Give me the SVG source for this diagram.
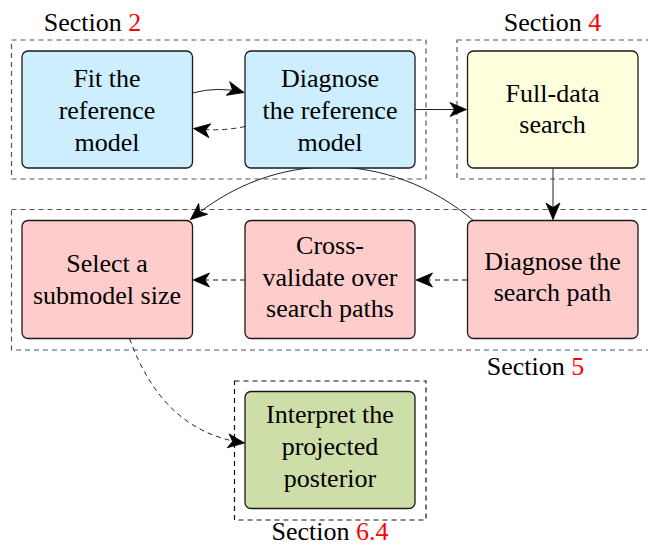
<svg xmlns="http://www.w3.org/2000/svg" width="648" height="547" viewBox="0 0 648 547">
<style>
  text { font-family: "Liberation Serif", "Times New Roman", serif; font-size: 26px; fill: #000; text-anchor: middle; }
  .num { fill: #ff0000; }
  .node { stroke: #1a1a1a; stroke-width: 1.3; }
  .blue { fill: #cceeff; }
  .yellow { fill: #ffffdd; }
  .pink { fill: #ffcccc; }
  .green { fill: #cddea9; }
  .sec { fill: none; stroke: #555; stroke-width: 1.2; stroke-dasharray: 5 4; }
  .sec4 { fill: none; stroke: #111; stroke-width: 1.2; stroke-dasharray: 5 4; }
  .conn { fill: none; stroke: #222; stroke-width: 1; marker-end: url(#arrow); }
  .dash { stroke-dasharray: 5 4; }
  .gray { stroke: #666; stroke-width: 1.3; }
</style>
<defs>
  <marker id="arrow" markerUnits="userSpaceOnUse" viewBox="-20 -9 22 18" markerWidth="22" markerHeight="18" refX="0" refY="0" orient="auto">
    <path d="M0,0 L-16.5,-7 L-12,0 L-16.5,7 Z" fill="#000" stroke="#000" stroke-width="0.8" stroke-linejoin="miter"/>
  </marker>
</defs>
<rect width="648" height="547" fill="#fff"/>

<g id="sections">
  <rect class="sec" x="11.5" y="40" width="414.5" height="139"/>
  <rect class="sec" x="457" y="40" width="200" height="139"/>
  <rect class="sec" x="11.5" y="209.5" width="650" height="140.5"/>
  <rect class="sec4" x="234.5" y="381" width="191.5" height="139"/>
  <text x="92.5" y="31">Section <tspan class="num">2</tspan></text>
  <text x="552.5" y="31">Section <tspan class="num">4</tspan></text>
  <text x="535.5" y="375">Section <tspan class="num">5</tspan></text>
  <text x="330" y="540">Section <tspan class="num">6.4</tspan></text>
</g>

<g id="connectors">
  <path class="conn" d="M192.5,93 Q218,86 244,92.5"/>
  <path class="conn dash" d="M245,126.5 Q219,132 193.5,128.5"/>
  <path class="conn" d="M415,109.5 L466.5,109.5"/>
  <path class="conn" d="M553,168.5 L553,219.5"/>
  <path class="conn" d="M474,221 C389,149.6 275,148.6 190.5,219.5"/>
  <path class="conn gray dash" d="M467,280 L416,280"/>
  <path class="conn gray dash" d="M245,280 L193,280"/>
  <path class="conn dash" d="M129.5,338.5 C150,395 185,435 244.5,443"/>
</g>

<g id="node-fit">
  <rect class="node blue" x="22" y="51" width="170.5" height="117" rx="6"/>
  <text x="107" y="87">Fit the</text>
  <text x="107" y="119">reference</text>
  <text x="107" y="151">model</text>
</g>
<g id="node-diagnose-ref">
  <rect class="node blue" x="245" y="51" width="170" height="117" rx="6"/>
  <text x="330" y="87">Diagnose</text>
  <text x="330" y="119">the reference</text>
  <text x="330" y="151">model</text>
</g>
<g id="node-full-data">
  <rect class="node yellow" x="467.5" y="51" width="170.5" height="117" rx="6"/>
  <text x="552.5" y="102">Full-data</text>
  <text x="552.5" y="133">search</text>
</g>
<g id="node-select">
  <rect class="node pink" x="22" y="220.5" width="170.5" height="118" rx="6"/>
  <text x="107" y="272">Select a</text>
  <text x="107" y="304">submodel size</text>
</g>
<g id="node-cv">
  <rect class="node pink" x="245" y="220.5" width="170" height="118" rx="6"/>
  <text x="330" y="254">Cross-</text>
  <text x="330" y="286">validate over</text>
  <text x="330" y="317">search paths</text>
</g>
<g id="node-diagnose-path">
  <rect class="node pink" x="467.5" y="220.5" width="170.5" height="118" rx="6"/>
  <text x="552.5" y="270">Diagnose the</text>
  <text x="552.5" y="301">search path</text>
</g>
<g id="node-interpret">
  <rect class="node green" x="245" y="391.5" width="170" height="117" rx="6"/>
  <text x="330" y="423">Interpret the</text>
  <text x="330" y="455">projected</text>
  <text x="330" y="487">posterior</text>
</g>
</svg>
